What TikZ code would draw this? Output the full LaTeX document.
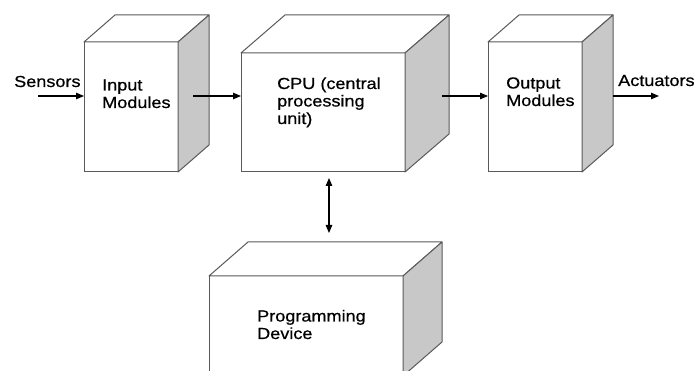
\documentclass[tikz,border=0pt]{standalone}
\usepackage{fontspec}
\setmainfont[FakeStretch=1.13,FakeBold=0.6]{Liberation Sans}
\usetikzlibrary{arrows.meta}
\definecolor{edgec}{RGB}{90,90,90}
\definecolor{sidec}{RGB}{200,200,200}
\newcommand\boxthreed[3]{%
  \draw[topface] (#1.north west) -- ([shift={(#2,#3)}]#1.north west) -- ([shift={(#2,#3)}]#1.north east) -- (#1.north east) -- cycle;
  \draw[sideface] (#1.north east) -- ([shift={(#2,#3)}]#1.north east) -- ([shift={(#2,#3)}]#1.south east) -- (#1.south east) -- cycle;
}
\begin{document}
\begin{tikzpicture}[x=1pt,y=-1pt,
  face/.style={draw=edgec, line width=1pt, fill=white, inner sep=0pt, outer sep=0pt},
  topface/.style={draw=edgec, line width=1pt, fill=white, line join=round},
  sideface/.style={draw=edgec, line width=1pt, fill=sidec, line join=round},
  lbl/.style={font=\fontsize{16}{17.5}\selectfont, inner sep=0pt, align=left, anchor=base west},
  conn/.style={line width=1.2pt, -{Triangle[length=8pt,width=6.5pt]}},
  biconn/.style={line width=1.2pt, {Triangle[length=8pt,width=6.5pt]}-{Triangle[length=8pt,width=6.5pt]}}]
\useasboundingbox (0,0) rectangle (697,371);
\clip (0,0) rectangle (697,371);
\fill[white] (0,0) rectangle (697,371);

% boxes (front faces)
\node[face, minimum width=94pt, minimum height=130pt] (in) at (131,107) {};
\boxthreed{in}{31}{-27}
\node[face, minimum width=164pt, minimum height=119pt] (cpu) at (323,112.5) {};
\boxthreed{cpu}{44}{-38}
\node[face, minimum width=94pt, minimum height=130pt] (out) at (535,107) {};
\boxthreed{out}{31}{-27}
\node[face, minimum width=194pt, minimum height=100pt] (prog) at (306,326) {};
\boxthreed{prog}{39}{-34}

% labels (anchor = baseline of last line)
\node[lbl] (tsens) at (14,87) {Sensors};
\node[lbl] (tin) at (102,108) {Input\\Modules};
\node[lbl] (tcpu) at (277,124) {CPU (central\\processing\\unit)};
\node[lbl] (tout) at (506,106) {Output\\Modules};
\node[lbl] (tact) at (618,86) {Actuators};
\node[lbl] (tprog) at (257,339) {Programming\\Device};

% connectors
\coordinate (s0) at (38,96);
\draw[conn] (s0) -- (s0 -| in.west);
\coordinate (a1) at (193,96);
\draw[conn] (a1) -- (a1 -| cpu.west);
\coordinate (a2) at (442,96);
\draw[conn] (a2) -- (a2 -| out.west);
\coordinate (a3) at (613,96);
\coordinate (a4) at (659,96);
\draw[conn] (a3) -- (a4);
\coordinate (b1) at (329,178);
\coordinate (b2) at (329,233);
\draw[biconn] (b1) -- (b2);
\end{tikzpicture}
\end{document}
